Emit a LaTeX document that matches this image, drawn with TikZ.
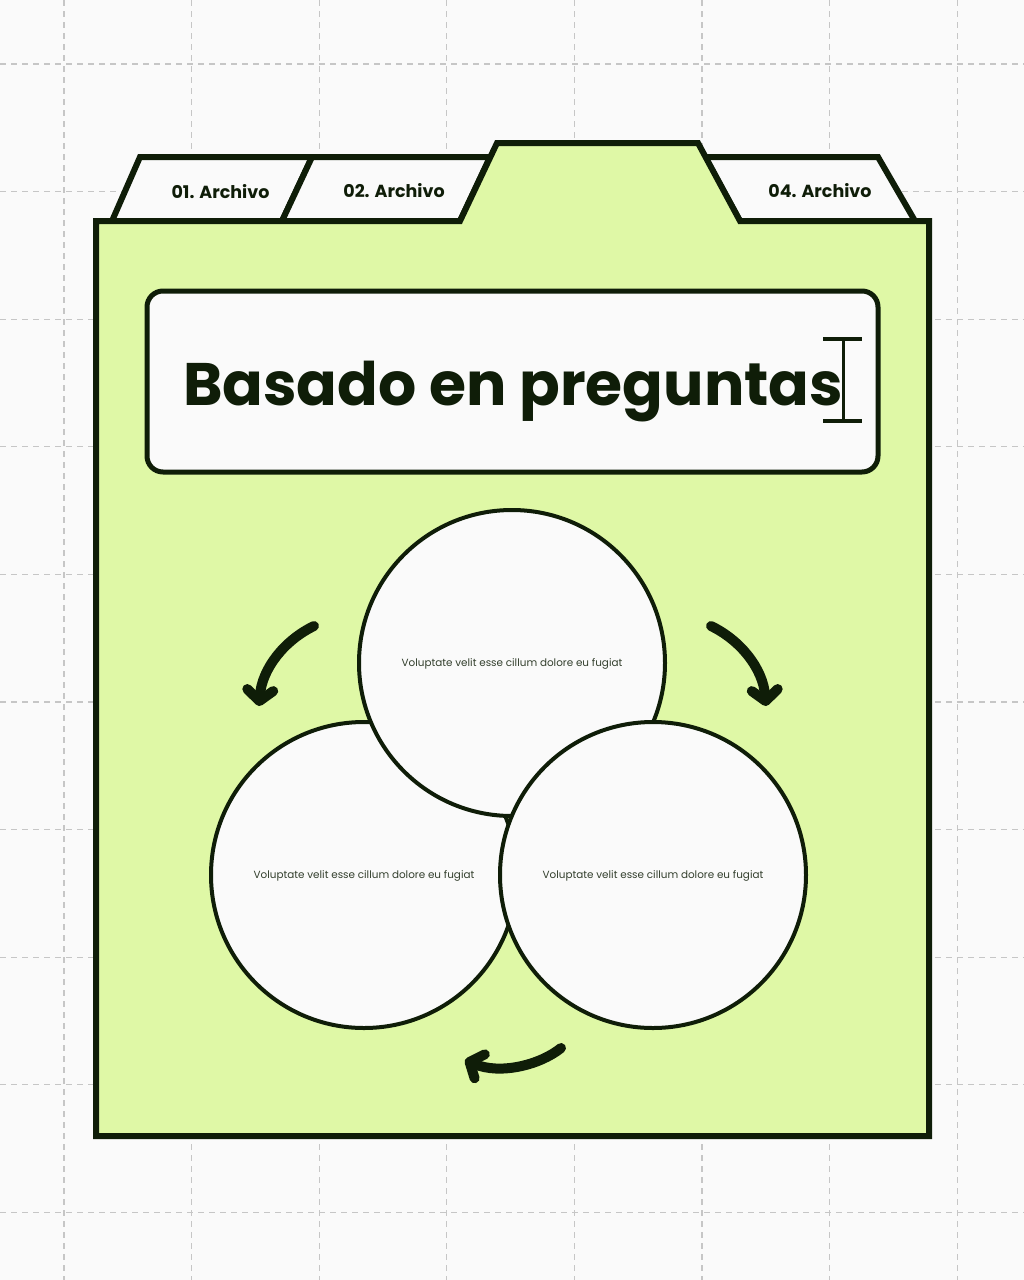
\documentclass[tikz,border=0pt]{standalone}
\usepackage{fontspec}
\setmainfont{Poppins}
\usetikzlibrary{arrows.meta}

\definecolor{ink}{HTML}{0F1D08}
\definecolor{lime}{HTML}{DFF8A6}
\definecolor{paper}{HTML}{FAFAFA}
\definecolor{gridgray}{HTML}{C6C6C6}

\tikzset{
  outline/.style={draw=ink, line width=6pt, line join=miter},
  tabbox/.style={outline, fill=paper},
  tablabel/.style={font=\bfseries\fontsize{17.5}{20}\selectfont, text=ink},
  gridline/.style={gridgray, line width=1.2pt, dash pattern=on 6pt off 5pt},
  bubble/.style={circle, draw=ink, line width=4pt, fill=paper, minimum size=306pt, inner sep=0pt,
    text depth=0pt, font=\fontsize{10.4}{12}\selectfont, text=ink!85},
  turn/.style={draw=ink, line width=10pt, line cap=round, -{Straight Barb[length=11pt, width=26pt, round]}},
}

\begin{document}
\begin{tikzpicture}[x=1pt, y=-1pt]
  % 背景
  \useasboundingbox (0,0) rectangle (1024,1280);
  \fill[paper] (0,0) rectangle (1024,1280);

  % グリッド
  \foreach \i in {0,...,7}
    \draw[gridline] ({64+127.6*\i},0) -- ({64+127.6*\i},1280);
  \foreach \j in {0,...,9}
    \draw[gridline] (0,{64+127.6*\j}) -- (1024,{64+127.6*\j});

  % タブ
  \draw[tabbox] (112,221) -- (140,157) -- (312,157) -- (282,221) -- cycle;
  \draw[tabbox] (282,221) -- (312,157) -- (490,157) -- (460,221) -- cycle;
  \draw[tabbox] (705,157) -- (878,157) -- (915,221) -- (740,221) -- cycle;

  % フォルダ本体
  \draw[outline, fill=lime] (96,1136) -- (96,221) -- (460,221) -- (497,143)
    -- (698,143) -- (740,221) -- (929,221) -- (929,1136) -- cycle;

  % タブのラベル
  \node[tablabel] (tab1) at (220.5,192) {01. Archivo};
  \node[tablabel] (tab2) at (394,191) {02. Archivo};
  \node[tablabel] (tab4) at (820,191) {04. Archivo};

  % タイトル
  \node[draw=ink, line width=5pt, fill=paper, rounded corners=16pt,
    minimum width=731pt, minimum height=181pt] (titlebox) at (512.5,381.5) {};
  \node[font=\bfseries\fontsize{60}{62}\selectfont, text=ink, anchor=base west,
    inner sep=0pt] (title) at (183,405) {Basado en preguntas};
  % カーソル
  \coordinate (caret) at (843,380);
  \draw[ink, line width=3pt] ([yshift=-42pt]caret) -- ([yshift=42pt]caret);
  \draw[ink, line width=4.5pt] ([xshift=-20pt, yshift=-41pt]caret) -- ([xshift=19pt, yshift=-41pt]caret);
  \draw[ink, line width=4.5pt] ([xshift=-20pt, yshift=41pt]caret) -- ([xshift=19pt, yshift=41pt]caret);

  % 円
  \node[bubble] (left) at (364,875) {Voluptate velit esse cillum dolore eu fugiat};
  \node[bubble] (top) at (512,663) {Voluptate velit esse cillum dolore eu fugiat};
  \node[bubble] (right) at (653,875) {Voluptate velit esse cillum dolore eu fugiat};

  % 矢印
  \coordinate (a1s) at (314,626);
  \coordinate (a1e) at (259,706);
  \coordinate (a2s) at (711,626);
  \coordinate (a2e) at (766,706);
  \coordinate (a3s) at (561,1048);
  \coordinate (a3e) at (465,1060);
  \draw[turn] (a1s) .. controls (285,640) and (262,668) .. (a1e);
  \draw[turn] (a2s) .. controls (740,640) and (763,668) .. (a2e);
  \draw[turn] (a3s) .. controls (540,1065) and (500,1075) .. (a3e);
\end{tikzpicture}
\end{document}
